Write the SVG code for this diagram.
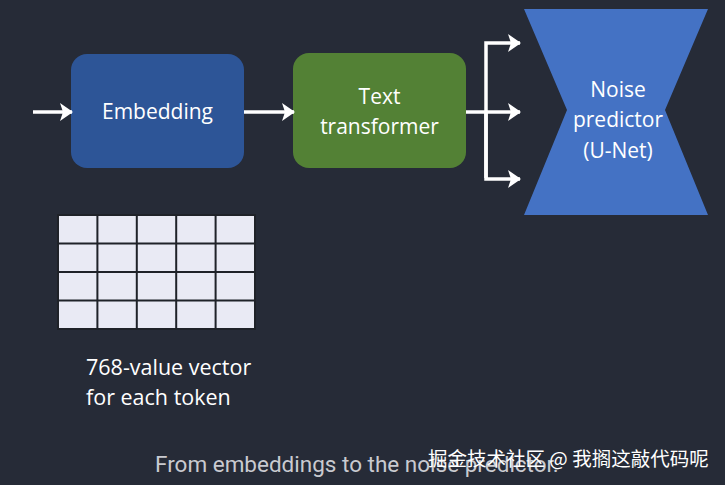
<svg xmlns="http://www.w3.org/2000/svg" width="725" height="485" viewBox="0 0 725 485">
<defs>
<marker id="ah" viewBox="0 0 13 18" refX="12" refY="9" markerWidth="13" markerHeight="18" orient="auto" markerUnits="userSpaceOnUse">
<path d="M0,0 L13,9 L0,18 L3,9 Z" fill="#ffffff"/>
</marker>
<style>
.lbl{font-family:"Open Sans","Noto Sans",sans-serif;font-size:21px;fill:#ffffff;text-anchor:middle}
.conn{stroke:#ffffff;stroke-width:3.5;fill:none}
</style>
</defs>
<rect width="725" height="485" fill="#262b37"/>
<g id="embedding">
<rect x="71" y="54" width="173" height="114" rx="16" fill="#2d5597"/>
<text class="lbl" x="157.5" y="119">Embedding</text>
</g>
<g id="text-transformer">
<rect x="293" y="53" width="173" height="115" rx="16" fill="#538135"/>
<text class="lbl" x="379.5" y="104">Text</text>
<text class="lbl" x="379.5" y="134">transformer</text>
</g>
<g id="noise-predictor">
<polygon points="524,9 708,9 665,110 708,215 524,215 567,110" fill="#4472c4"/>
<text class="lbl" x="618" y="97">Noise</text>
<text class="lbl" x="618" y="127">predictor</text>
<text class="lbl" x="618" y="158">(U-Net)</text>
</g>
<g id="connectors">
<line class="conn" x1="33" y1="112" x2="72" y2="112" marker-end="url(#ah)"/>
<line class="conn" x1="244" y1="112" x2="294" y2="112" marker-end="url(#ah)"/>
<line class="conn" x1="466" y1="112" x2="486" y2="112"/>
<line class="conn" x1="486" y1="112" x2="520" y2="112" marker-end="url(#ah)"/>
<polyline class="conn" points="486,178 486,43 520,43" marker-end="url(#ah)"/>
<polyline class="conn" points="486,112 486,179 520,179" marker-end="url(#ah)"/>
</g>
<g id="vector-grid">
<rect x="58" y="215" width="197" height="114" fill="#e9eaf4" stroke="#1f2228" stroke-width="2"/>
<path d="M97.4,215V329M136.8,215V329M176.2,215V329M215.6,215V329M58,243.5H255M58,272H255M58,300.5H255" stroke="#1f2228" stroke-width="2" fill="none"/>
<text font-family="'Open Sans','Noto Sans',sans-serif" font-size="21.5" fill="#ffffff" x="86" y="375">768-value vector</text>
<text font-family="'Open Sans','Noto Sans',sans-serif" font-size="21.5" fill="#ffffff" x="86" y="405">for each token</text>
</g>
<text font-family="Roboto,'Liberation Sans',sans-serif" font-size="22.5" fill="#c9cad0" x="155" y="472">From embeddings to the noise predictor.</text>
<text font-family="'Noto Sans CJK SC','Noto Sans',sans-serif" font-size="19.5" fill="#ffffff" x="428" y="466">掘金技术社区 @ 我搁这敲代码呢</text>
</svg>
